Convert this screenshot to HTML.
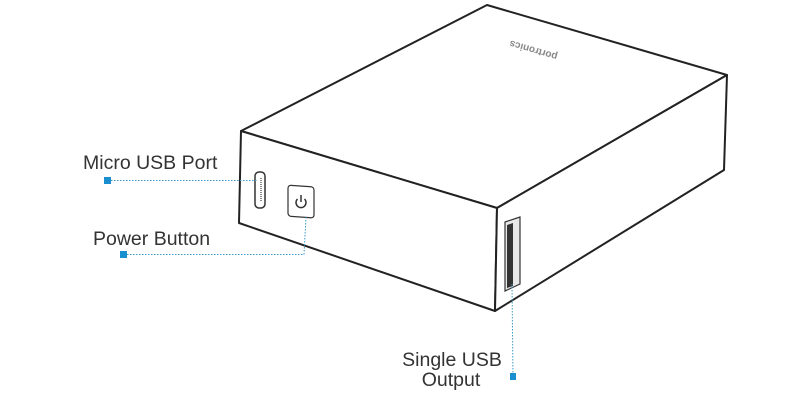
<!DOCTYPE html>
<html><head><style>
html,body{margin:0;padding:0;background:#fff;}
svg{display:block;}
text{font-family:"Liberation Sans",Arial,sans-serif;fill:#333;}
</style></head><body>
<svg width="800" height="400" viewBox="0 0 800 400" xmlns="http://www.w3.org/2000/svg">
<g fill="none" stroke="#222" stroke-width="2" stroke-linejoin="round">
<polygon points="487,5 727,75 497,208 241,131" fill="#fff"/>
<polygon points="241,131 497,208 495,311 239,223" fill="#fff"/>
<polygon points="497,208 727,75 724,170 495,311" fill="#fff"/>
</g>
<text x="558" y="54" font-size="10" font-weight="bold" transform="rotate(196 558 54)" style="fill:#888">portronics</text>
<!-- micro usb -->
<rect x="255" y="172" width="10" height="36" rx="4" fill="#fff" stroke="#333" stroke-width="1.5"/>
<line x1="261" y1="178" x2="261" y2="202" stroke="#888" stroke-width="2" stroke-dasharray="1,1"/>
<!-- power button -->
<rect x="288" y="185" width="26" height="31" rx="3" fill="#fff" stroke="#333" stroke-width="1.2" transform="skewY(4) translate(0,-20)"/>
<path d="M297.5 199 a5 5 0 1 0 7 0" fill="none" stroke="#333" stroke-width="1.5"/>
<line x1="301" y1="195" x2="301" y2="202" stroke="#333" stroke-width="1.5"/>
<!-- usb output -->
<polygon points="505,222 520,217 520,284 505,291" fill="#e8e8e8" stroke="#333" stroke-width="1.2"/>
<polygon points="507,225 513,223 513,286 507,288" fill="#333"/>
<!-- connectors -->
<g stroke="#3a9cc8" stroke-width="1" stroke-dasharray="1.5,1.5" fill="none">
<line x1="108" y1="180.5" x2="258" y2="180.5"/>
<polyline points="124,254.5 304,254.5 306,217"/>
<line x1="512" y1="284" x2="513" y2="376"/>
</g>
<rect x="104" y="177" width="7" height="7" fill="#1a8fd0"/>
<rect x="120" y="251" width="7" height="7" fill="#1a8fd0"/>
<rect x="510" y="373" width="6" height="7" fill="#1a8fd0"/>
<text x="83" y="169" font-size="19.5">Micro USB Port</text>
<text x="93" y="245" font-size="19.5">Power Button</text>
<text x="452" y="366" font-size="19.5" text-anchor="middle">Single USB</text>
<text x="451" y="386" font-size="19.5" text-anchor="middle">Output</text>
</svg>
</body></html>
